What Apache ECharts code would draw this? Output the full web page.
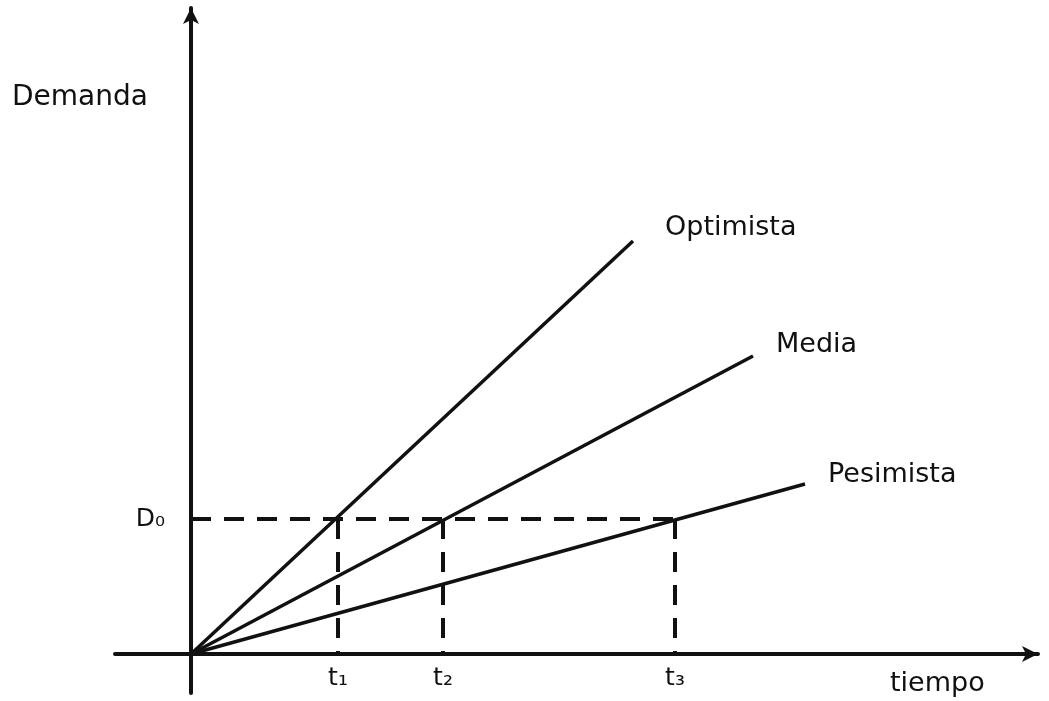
<!DOCTYPE html>
<html>
<head>
<meta charset="utf-8">
<script src="https://cdn.jsdelivr.net/npm/echarts@6/dist/echarts.min.js"></script>
<style>
  html, body { margin: 0; padding: 0; background: #fff; }
  #chart { width: 1049px; height: 701px; }
</style>
</head>
<body>
<div id="chart"></div>
<script>
// endpoints of the three scenario lines (tiempo, demanda), all from the origin
const scenarios = ['Optimista', 'Media', 'Pesimista'];
const endTiempo = [44.2, 56.2, 61.4];
const endDemanda = [41.3, 29.8, 17.0];

// demand level D0 and the times each scenario reaches it
const demandaD0 = 13.5;
const tiempos = [14.7, 25.2, 48.4];
const tLabels = ['t₁', 't₂', 't₃'];

const ink = '#111';
const font = 'DejaVu Sans';

const labelOffsets = [[24, -13], [15, -11], [15, -9]];

const lineSeries = scenarios.map((name, i) => ({
    name: name,
    type: 'line',
    data: [[0, 0], [endTiempo[i], endDemanda[i]]],
    symbol: 'none',
    lineStyle: {color: ink, width: 3.5},
    endLabel: {
        show: true,
        formatter: name,
        color: ink,
        fontFamily: font,
        fontSize: 27,
        offset: labelOffsets[i]
    },
    silent: true
}));

const dashStyle = {color: ink, width: 4, type: [20, 13]};

const dashSeries = [{
    type: 'line',
    data: [[0, demandaD0], [tiempos[2], demandaD0]],
    symbol: 'none',
    lineStyle: dashStyle,
    silent: true
}].concat(tiempos.map(t => ({
    type: 'line',
    data: [[t, demandaD0], [t, 0]],
    symbol: 'none',
    lineStyle: dashStyle,
    silent: true
})));

const chart = echarts.init(document.getElementById('chart'));
chart.setOption({
    backgroundColor: '#fff',
    animation: false,
    grid: {left: 115, right: 11, top: 8, bottom: 8, outerBoundsMode: 'none', containLabel: false},
    xAxis: {
        type: 'value',
        min: -7.6,
        max: 84.7,
        axisLine: {
            onZero: true,
            symbol: ['none', 'arrow'],
            symbolSize: [12, 16],
            lineStyle: {color: ink, width: 4}
        },
        axisTick: {show: false},
        splitLine: {show: false},
        axisLabel: {
            customValues: tiempos,
            formatter: v => tLabels[tiempos.indexOf(v)] || '',
            color: ink,
            fontFamily: font,
            fontSize: 25,
            margin: -27
        }
    },
    yAxis: {
        type: 'value',
        min: -3.9,
        max: 64.6,
        axisLine: {
            onZero: true,
            symbol: ['none', 'arrow'],
            symbolSize: [12, 16],
            lineStyle: {color: ink, width: 4}
        },
        axisTick: {show: false},
        splitLine: {show: false},
        axisLabel: {
            customValues: [demandaD0],
            formatter: () => 'D₀',
            color: ink,
            fontFamily: font,
            fontSize: 25,
            margin: -50
        }
    },
    graphic: [
        {type: 'text', left: 12, top: 84,
         style: {text: 'Demanda', fill: ink, font: '28px "DejaVu Sans"'}},
        {type: 'text', left: 890, top: 670,
         style: {text: 'tiempo', fill: ink, font: '27px "DejaVu Sans"'}}
    ],
    series: lineSeries.concat(dashSeries)
});
</script>
</body>
</html>
